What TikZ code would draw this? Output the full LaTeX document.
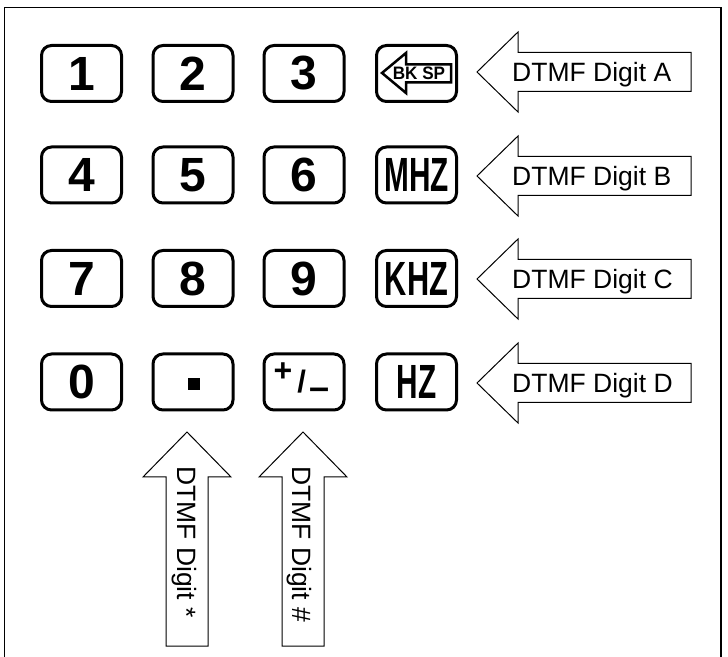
\documentclass[tikz,border=0pt]{standalone}
\usepackage{fontspec}
\setmainfont{Liberation Sans}
\newcommand\lcallout[1]{%
  \draw[callout] (477,#1) -- (518,#1+40) -- (518,#1+19.5) -- (691,#1+19.5) -- (691,#1-19.5) -- (518,#1-19.5) -- (518,#1-40) -- cycle;}
\newcommand\ucallout[1]{%
  \draw[callout] (#1,224) -- (#1+44,179) -- (#1+21,179) -- (#1+21,10) -- (#1-21,10) -- (#1-21,179) -- (#1-44,179) -- cycle;}
\begin{document}
\begin{tikzpicture}[x=1pt,y=1pt,
  key/.style={draw, line width=3pt, rounded corners=10pt, minimum width=80pt, minimum height=56pt, inner sep=0pt, font=\fontsize{48}{48}\selectfont\bfseries},
  callout/.style={draw, line width=1pt, fill=white, line join=miter},
  lbl/.style={inner sep=0pt, font=\fontsize{26.5}{26.5}\selectfont},
  icon/.style={draw, line width=2.5pt, line join=miter},
]
\useasboundingbox (0,0) rectangle (728,656);
\fill[white] (0,0) rectangle (728,656);
\draw[line width=1.5pt] (4.5,-5) -- (4.5,648.5) -- (721,648.5) -- (721,-5);

% keys
\node[key] (k1) at (81.5,582.5) {1};
\node[key] (k2) at (193,582.5) {2};
\node[key] (k3) at (304,582.5) {3};
\node[key] (kbs) at (416.5,582.5) {};
\node[key] (k4) at (81.5,481) {4};
\node[key] (k5) at (193,481) {5};
\node[key] (k6) at (304,481) {6};
\node[key] (kmhz) at (416.5,481) {\scalebox{0.62}[1]{MHZ}};
\node[key] (k7) at (81.5,377.5) {7};
\node[key] (k8) at (193,377.5) {8};
\node[key] (k9) at (304,377.5) {9};
\node[key] (kkhz) at (416.5,377.5) {\scalebox{0.64}[1]{KHZ}};
\node[key] (k0) at (81.5,274) {0};
\node[key] (kdot) at (193,274) {};
\node[key] (kpm) at (304,274) {};
\node[key] (khz) at (416.5,274) {\scalebox{0.62}[1]{HZ}};

% backspace icon
\draw[icon] (382,583) -- (406,603) -- (406,591.5) -- (451,591.5) -- (451,573.5) -- (406,573.5) -- (406,563) -- cycle;
\node[inner sep=0pt, font=\fontsize{18}{18}\selectfont\bfseries] (bksp) at (419,582.5) {\scalebox{0.95}[1]{BK SP}};

% decimal point
\fill ([xshift=-5pt,yshift=-8pt]kdot.center) rectangle +(12,12);

% plus/minus
\node[inner sep=0pt, anchor=base west, font=\fontsize{32}{32}\selectfont\bfseries] (pm) at (273.4,263.5)
  {\raisebox{11.3pt}{+}\kern5pt{\fontsize{31}{31}\selectfont/}\kern4pt\raisebox{-6.7pt}{\fontsize{36}{36}\selectfont –}};

% side callouts
\lcallout{584}
\node[lbl, anchor=base west] (dA) at (512,574.5) {DTMF Digit A};
\lcallout{480}
\node[lbl, anchor=base west] (dB) at (512,470.5) {DTMF Digit B};
\lcallout{377}
\node[lbl, anchor=base west] (dC) at (512,367.5) {DTMF Digit C};
\lcallout{273}
\node[lbl, anchor=base west] (dD) at (512,263.5) {DTMF Digit D};

% bottom callouts
\ucallout{187}
\node[lbl, rotate=-90, anchor=base west] (dstar) at (177.5,190) {DTMF Digit *};
\ucallout{303}
\node[lbl, rotate=-90, anchor=base west] (dhash) at (292.5,190) {DTMF Digit \#};
\end{tikzpicture}
\end{document}
